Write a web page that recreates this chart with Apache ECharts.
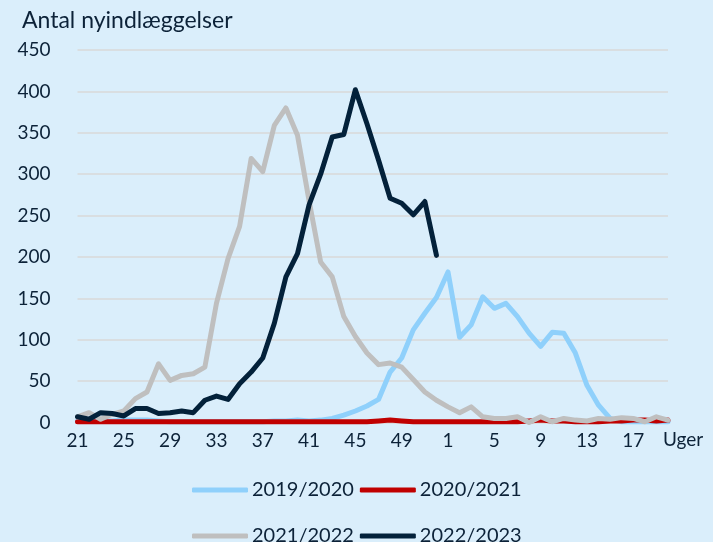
<!DOCTYPE html>
<html>
<head>
<meta charset="utf-8">
<script src="https://cdn.jsdelivr.net/npm/echarts@6/dist/echarts.min.js"></script>
<style>
html,body{margin:0;padding:0;background:#DAEEFB;}
#main{width:713px;height:542px;}
</style>
</head>
<body>
<div id="main"></div>
<script>
// uger: 21..52 og 1..20
var weeks = ["21","22","23","24","25","26","27","28","29","30","31","32","33","34","35","36","37","38","39","40",
	"41","42","43","44","45","46","47","48","49","50","51","52","1","2","3","4","5","6","7","8","9","10",
	"11","12","13","14","15","16","17","18","19","20"];

var s2019 = [2,2,2,2,3,3,3,2,1,1,1,1,1,1,1,1,1,2,2,3,2,3,5,9,14,20,28,61,78,112,132,151,182,103,118,152,
	138,144,128,108,92,109,108,84,45,21,5,1,1,1,1,1];
var s2020 = [1,1,1,1,1,1,1,1,1,1,1,1,1,1,1,1,1,1,1,1,1,1,1,1,1,1,2,3,2,1,1,1,1,1,1,1,1,1,1,2,3,2,2,1,1,1,
	2,2,3,3,2,3];
var s2021 = [7,12,4,10,14,29,37,71,51,57,59,67,144,198,237,319,303,359,380,347,268,194,176,128,104,84,70,72,
	67,52,37,27,19,12,19,7,5,5,7,0,7,1,5,3,2,5,4,6,5,1,7,3];
var s2022 = [7,4,12,11,8,17,17,11,12,14,12,27,32,28,47,61,78,120,176,204,263,300,345,348,402,361,317,271,265,251,267,202];

var seriesNames = ["2019/2020","2020/2021","2021/2022","2022/2023"];
var seriesColors = ["#8FD0FB","#C00000","#BFBFBF","#03213A"];
var seriesData = [s2019,s2020,s2021,s2022];

var txtColor = "#0C2238";
var fnt = "Lato";

var chart = echarts.init(document.getElementById("main"));

var series = [];
for(var i=0;i<seriesNames.length;i++){
	series.push({
		name:seriesNames[i],
		type:"line",
		data:seriesData[i],
		showSymbol:false,
		symbol:"none",
		z:2+i,
		lineStyle:{width:5,color:seriesColors[i],cap:"round",join:"round"},
		itemStyle:{color:seriesColors[i]}
	});
}

var legendBase = {
	left:187,
	itemWidth:56,
	itemHeight:5,
	itemGap:6,
	icon:"roundRect",
	textStyle:{color:txtColor,fontSize:20,fontFamily:fnt,padding:[0,0,0,-1]}
};

var option = {
	backgroundColor:"#DAEEFB",
	animation:false,
	title:{
		text:"Antal nyindlæggelser",
		left:17,
		top:4,
		textStyle:{color:txtColor,fontSize:23,fontWeight:"normal",fontFamily:fnt}
	},
	legend:[
		Object.assign({},legendBase,{top:475,data:["2019/2020","2020/2021"]}),
		Object.assign({},legendBase,{top:521,data:["2021/2022","2022/2023"]})
	],
	grid:{left:77.5,right:45,top:50,bottom:119.4,containLabel:false},
	xAxis:{
		type:"category",
		data:weeks,
		boundaryGap:false,
		name:"Uger",
		nameLocation:"end",
		nameGap:-5,
		nameTextStyle:{color:txtColor,fontSize:19,fontFamily:fnt,align:"left",verticalAlign:"top",padding:[8,0,0,0]},
		axisLine:{show:true,lineStyle:{color:"#D9D9D9",width:1}},
		axisTick:{show:false},
		axisLabel:{interval:3,color:txtColor,fontSize:19,fontFamily:fnt,margin:9},
		splitLine:{show:false}
	},
	yAxis:{
		type:"value",
		min:0,
		max:450,
		interval:50,
		axisLine:{show:false},
		axisTick:{show:false},
		axisLabel:{color:txtColor,fontSize:19,fontFamily:fnt,margin:27},
		splitLine:{lineStyle:{color:"#D9D9D9",width:1.5}}
	},
	series:series
};

chart.setOption(option);
</script>
</body>
</html>
